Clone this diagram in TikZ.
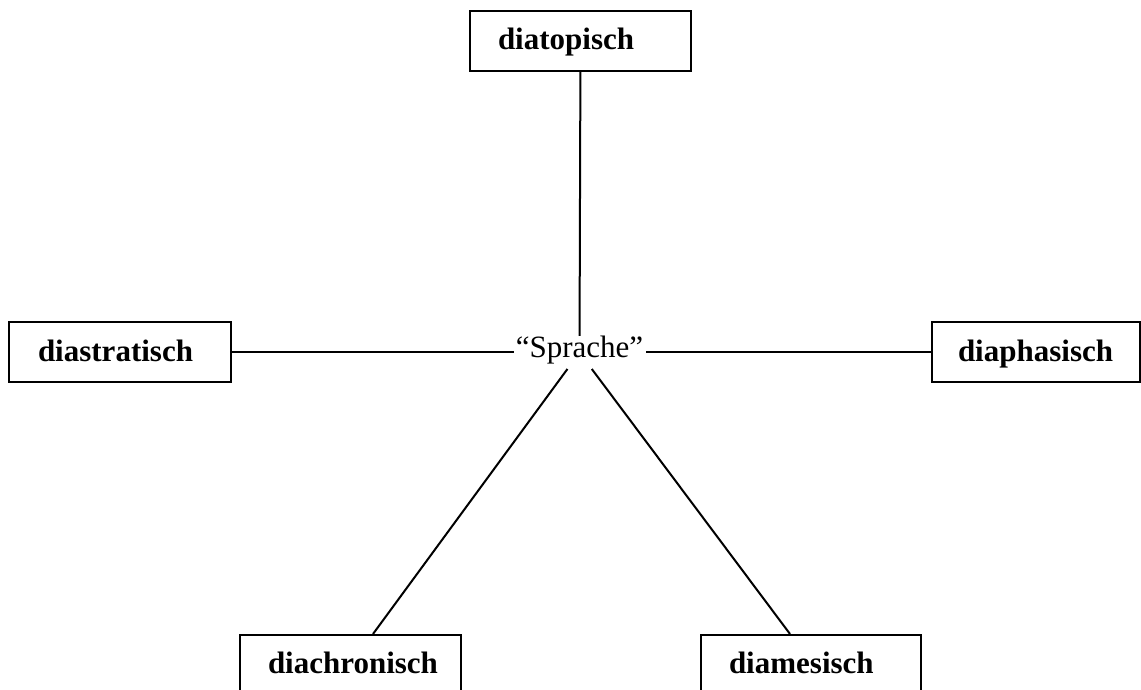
\documentclass[tikz,border=0pt]{standalone}
\usepackage{fontspec}
\setmainfont{Liberation Serif}
\begin{document}
\begin{tikzpicture}[x=1pt,y=1pt,
  line width=2pt,
  dimbox/.style={draw, line width=2pt, minimum height=60pt, inner ysep=0pt,
    text height=22pt, text depth=4pt, align=left,
    font=\fontsize{31}{37}\selectfont\bfseries},
  centre/.style={inner sep=0pt, minimum width=130pt, minimum height=31pt,
    text height=20pt, text depth=10pt,
    font=\fontsize{31}{37}\selectfont},
  link/.style={line width=2pt}]
  \useasboundingbox (0,0) rectangle (1141,690);
  \clip (0,0) rectangle (1141,690);

  % centre label
  \node[centre] (sprache) at (579.5,337.5) {“Sprache”};

  % the five dimensions of variation
  \node[dimbox, anchor=west, inner xsep=28pt, text width=165pt] (topo) at (469,649) {diatopisch\hfill};
  \node[dimbox, anchor=west, inner xsep=29pt, text width=164pt] (strat) at (8,337.5) {diastratisch\hfill};
  \node[dimbox, anchor=west, inner xsep=26pt, text width=156pt] (phas) at (931,337.5) {diaphasisch\hfill};
  \node[dimbox, anchor=north west, inner xsep=28pt, text width=165pt] (chron) at (239,56) {diachronisch\hfill};
  \node[dimbox, anchor=north west, inner xsep=28pt, text width=164pt] (mes) at (700,56) {diamesisch\hfill};

  % connectors
  \draw[link] (topo) -- (sprache);
  \draw[link] (strat) -- (sprache);
  \draw[link] (phas) -- (sprache);
  \draw[link] (sprache) -- ([xshift=22.5pt]chron.north);
  \draw[link] (sprache) -- ([xshift=-21pt]mes.north);
\end{tikzpicture}
\end{document}
